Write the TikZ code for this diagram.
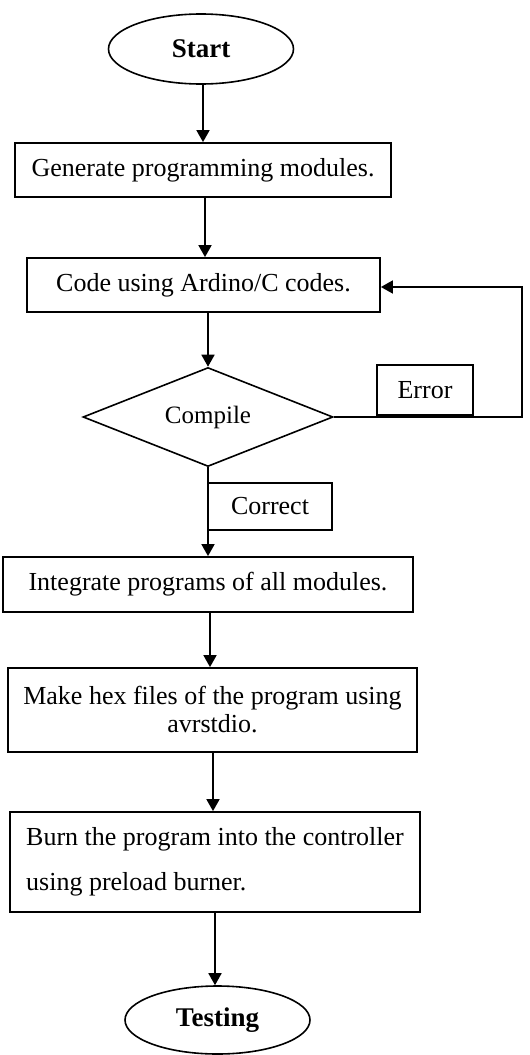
\documentclass[tikz,border=0pt]{standalone}
\usepackage{fontspec}
\setmainfont{Liberation Serif}
\usetikzlibrary{shapes.geometric,arrows.meta}
\begin{document}
\begin{tikzpicture}[x=1pt,y=-1pt,
  box/.style={draw,line width=1.8pt,inner sep=0pt,font=\fontsize{26}{28}\selectfont},
  term/.style={draw,ellipse,line width=1.6pt,inner sep=0pt,minimum width=185pt,minimum height=70pt,font=\fontsize{27}{30}\selectfont\bfseries},
  arr/.style={line width=1.8pt,-{Triangle[length=12pt,width=13pt]}}]
\useasboundingbox (0,0) rectangle (530,1055);
\node[term] (start) at (201,49) {Start};
\node[box,minimum width=376pt,minimum height=54pt] (b1) at (203,170) {Generate programming modules.};
\node[box,minimum width=353pt,minimum height=54pt] (b2) at (203.5,285) {Code using Ardino/C codes.};
\node[draw,diamond,aspect=2.525,line width=1.6pt,minimum width=250pt,minimum height=99pt,inner sep=0pt,font=\fontsize{25}{28}\selectfont] (dec) at (208,417) {Compile};
\node[box,minimum width=96pt,minimum height=50pt] (err) at (425,390) {Error};
\node[box,minimum width=124pt,minimum height=47pt] (cor) at (270,506.5) {Correct};
\node[box,minimum width=410pt,minimum height=55pt] (b3) at (208,584.5) {Integrate programs of all modules.};
\node[box,minimum width=409pt,minimum height=84pt,align=center] (b4) at (212.5,710) {Make hex files of the program using\\avrstdio.};
\node[box,minimum width=410pt,minimum height=100pt,align=left,font=\fontsize{26}{45}\selectfont] (b5) at (215,862) {Burn the program into the controller\\using preload burner.};
\node[term,minimum height=68pt] (test) at (217.5,1020) {Testing};
\coordinate (cr) at (522,287);
\draw[arr] (start.south -| b1.north) -- (b1.north);
\draw[arr] ([xshift=2pt]b1.south) -- ([xshift=2pt]b1.south |- b2.north);
\draw[arr] (dec.north |- b2.south) -- (dec.north);
\draw[arr] (dec.south) -- (dec.south |- b3.north);
\draw[arr] ([xshift=2pt]b3.south) -- ([xshift=2pt]b3.south |- b4.north);
\draw[arr] ([xshift=0.5pt]b4.south) -- ([xshift=0.5pt]b4.south |- b5.north);
\draw[arr] (b5.south) -- (b5.south |- test.north);
\draw[arr] (dec.east) -- (cr |- dec.east) -- (cr) -- (cr -| b2.east);
\end{tikzpicture}
\end{document}
